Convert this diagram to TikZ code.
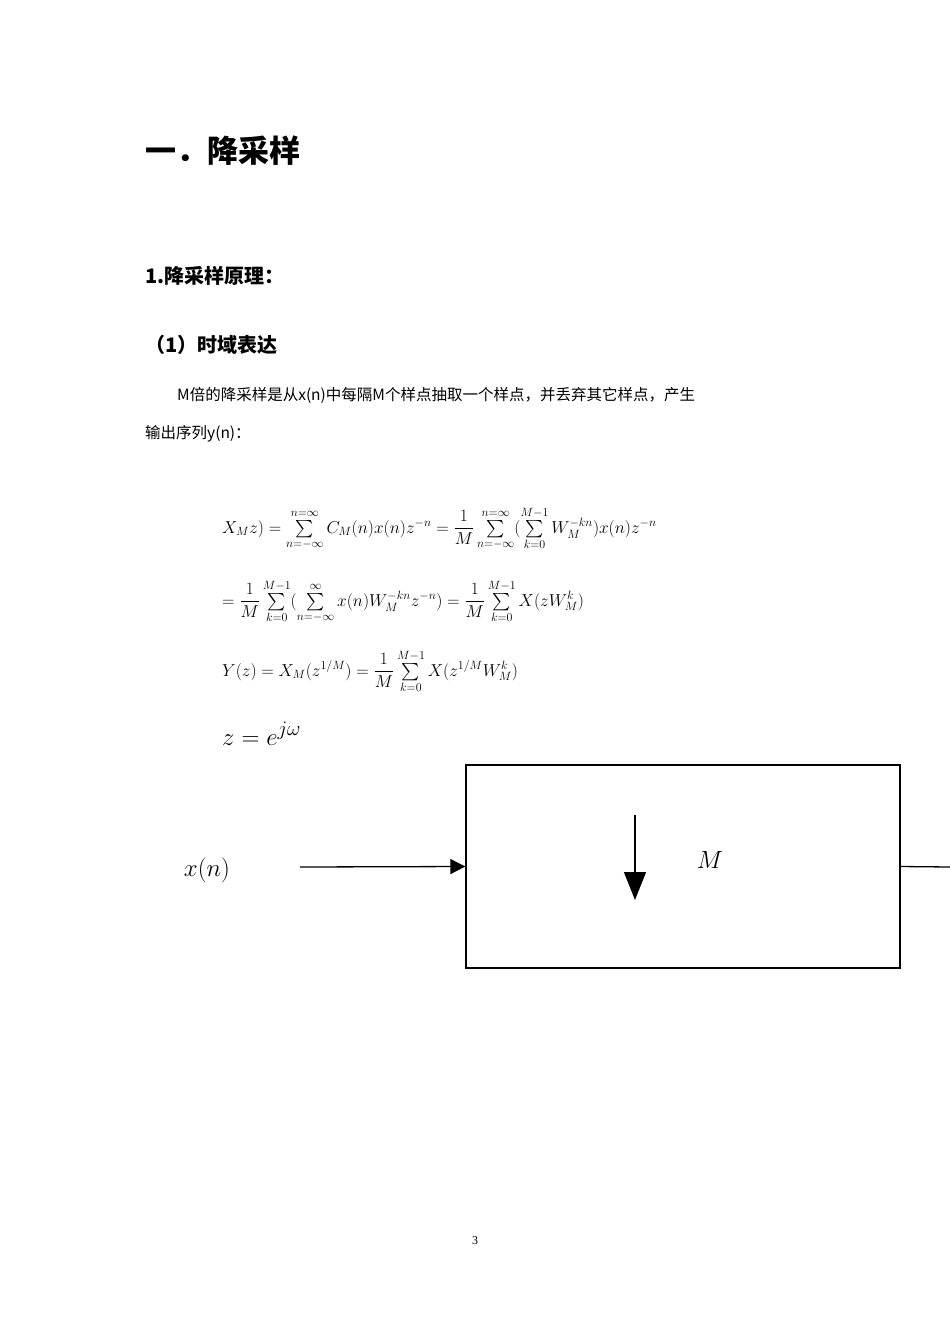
\documentclass[tikz,border=0pt]{standalone}
\usepackage{fontspec}
\usepackage{amsmath}
\setmainfont{Liberation Serif}
\newfontfamily\cjk{Noto Sans CJK SC}
\usetikzlibrary{arrows.meta}
\tikzset{lbl/.style={anchor=base west,inner sep=0pt},
 conn/.style={line width=1.3pt},
 fm/.style={anchor=base west,inner sep=0pt,font=\fontsize{17}{20}\selectfont}}
\begin{document}
\begin{tikzpicture}[x=1pt,y=-1pt]
\useasboundingbox (0,0) rectangle (950,1344);
\node[lbl,font=\cjk\bfseries\fontsize{31}{34}\selectfont] (h1) at (145,162) {一．降采样};
\node[lbl,font=\cjk\bfseries\fontsize{20}{24}\selectfont] (h2) at (145,283) {1.降采样原理：};
\node[lbl,font=\cjk\bfseries\fontsize{20}{24}\selectfont] (h3) at (145,352) {（1）时域表达};
\node[lbl,font=\cjk\fontsize{15.5}{18}\selectfont] (p1) at (177,400) {M倍的降采样是从x(n)中每隔M个样点抽取一个样点，并丢弃其它样点，产生};
\node[lbl,font=\cjk\fontsize{15.5}{18}\selectfont] (p2) at (145,438) {输出序列y(n)：};
\node[fm] (e1) at (222,533) {$X_M z)=\sum\limits_{n=-\infty}^{n=\infty}C_M(n)x(n)z^{-n}=\dfrac{1}{M}\sum\limits_{n=-\infty}^{n=\infty}(\sum\limits_{k=0}^{M-1}W_M^{-kn})x(n)z^{-n}$};
\node[fm] (e2) at (222,606) {$=\dfrac{1}{M}\sum\limits_{k=0}^{M-1}(\sum\limits_{n=-\infty}^{\infty}x(n)W_M^{-kn}z^{-n})=\dfrac{1}{M}\sum\limits_{k=0}^{M-1}X(zW_M^k)$};
\node[fm] (e3) at (222,676) {$Y(z)=X_M(z^{1/M})=\dfrac{1}{M}\sum\limits_{k=0}^{M-1}X(z^{1/M}W_M^k)$};
\node[fm,font=\fontsize{30}{34}\selectfont] (e4) at (222,745) {$z=e^{j\omega}$};
\node[draw,line width=1.3pt,minimum width=434pt,minimum height=203pt,inner sep=0pt] (box) at (683,866.5) {};
\node[inner sep=0pt,font=\fontsize{48}{52}\selectfont] (xn) at (207,870) {$x(n)$};
\coordinate (in) at (300,867);
\coordinate (out) at (950,867);
\draw[conn,-{Triangle[length=15pt,width=15pt]}] (in) -- (box.west);
\draw[conn] (box.east) -- (out);
\coordinate (da) at (635,815);
\coordinate (db) at (635,900);
\draw[conn,-{Triangle[length=28pt,width=22pt]}] (da) -- (db);
\node[inner sep=0pt,font=\fontsize{56}{60}\selectfont] (M) at (710,860) {$M$};
\node[inner sep=0pt,font=\fontsize{12}{14}\selectfont] (pg) at (475,1241) {3};
\end{tikzpicture}
\end{document}
